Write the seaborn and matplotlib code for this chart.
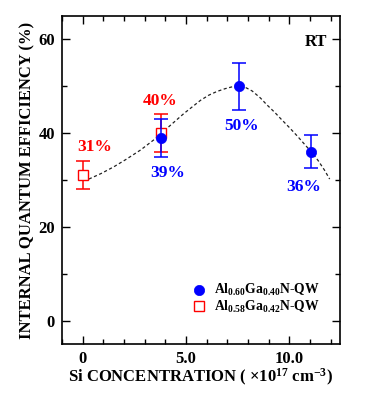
import matplotlib
matplotlib.use("Agg")
import matplotlib.pyplot as plt
import seaborn as sns
import pandas as pd
from matplotlib.ticker import MultipleLocator, FixedLocator

# ---- data ----
blue_x = [3.8, 7.55, 11.06]
blue_y = [39.0, 50.0, 36.0]
blue_err = [4.0, 5.0, 3.5]
blue_labels = ["39%", "50%", "36%"]

red_x = [0.0, 3.77]
red_y = [31.0, 40.0]
red_err = [3.0, 4.0]
red_labels = ["31%", "40%"]

curve_x = [0.3, 0.9, 1.5, 2.1, 2.8, 3.6, 4.2, 4.9, 5.7, 6.1, 6.5, 6.9, 7.2, 7.55, 7.9,
           8.2, 8.6, 8.9, 9.3, 9.6, 10.0, 10.4, 10.8, 11.1, 11.4, 11.7, 11.95]
curve_y = [30.2, 31.4, 32.8, 34.4, 36.4, 39.1, 41.5, 44.2, 47.0, 48.1, 48.9, 49.5, 49.85,
           50.0, 49.7, 49.0, 47.5, 46.1, 44.4, 43.0, 41.2, 39.3, 37.3, 35.8, 34.1, 32.1, 30.2]

legend_blue = r"Al$_{0.60}$Ga$_{0.40}$N-QW"
legend_red = r"Al$_{0.58}$Ga$_{0.42}$N-QW"

sns.set_theme(style="ticks")
plt.rcParams['font.family'] = ['Liberation Serif', 'DejaVu Serif']
plt.rcParams['font.weight'] = 'bold'
plt.rcParams['mathtext.fontset'] = 'custom'
plt.rcParams['mathtext.rm'] = 'Liberation Serif:bold'
plt.rcParams['mathtext.it'] = 'Liberation Serif:bold:italic'
plt.rcParams['mathtext.bf'] = 'Liberation Serif:bold'
for k in ['text.color', 'axes.labelcolor', 'xtick.color', 'ytick.color', 'axes.edgecolor']:
    plt.rcParams[k] = 'black'

fig = plt.figure(figsize=(3.7, 3.94), dpi=100)
ax = fig.add_axes([62/370, 1-344/394, (340-62)/370, (344-16)/394])

curve = pd.DataFrame({"x": curve_x, "y": curve_y})
sns.lineplot(data=curve, x="x", y="y", ax=ax, color="#222222", lw=0.9,
             linestyle=(0, (2.5, 2)), sort=False)

ax.errorbar(red_x, red_y, yerr=red_err, fmt='none', ecolor='red', elinewidth=1.1,
            capsize=5, capthick=1.1, zorder=3)
ax.plot(red_x, red_y, ls='none', marker='s', ms=6.5, mfc='white', mec='red', mew=1.0,
        zorder=4, label=legend_red)
ax.errorbar(blue_x, blue_y, yerr=blue_err, fmt='none', ecolor='blue', elinewidth=1.1,
            capsize=5, capthick=1.1, zorder=5)
blue_df = pd.DataFrame({"x": blue_x, "y": blue_y})
sns.scatterplot(data=blue_df, x="x", y="y", ax=ax, color='blue', s=55, edgecolor='blue',
                linewidth=0.5, zorder=6, label=legend_blue)

# percentage labels
red_offsets = [(0.57, 6.0), (-0.02, 6.8)]
for x, y, t, (dx, dy) in zip(red_x, red_y, red_labels, red_offsets):
    ax.text(x + dx, y + dy, t, color='red', fontsize=12.5, fontweight='bold',
            ha='center', va='center')
blue_offsets = [(0.29, -7.4), (0.15, -8.4), (-0.37, -7.6)]
for x, y, t, (dx, dy) in zip(blue_x, blue_y, blue_labels, blue_offsets):
    ax.text(x + dx, y + dy, t, color='blue', fontsize=12.5, fontweight='bold',
            ha='center', va='center')

ax.text(0.953, 0.92, "RT", transform=ax.transAxes, ha='right', va='center',
        fontsize=12, fontweight='bold')

ax.set_xlim(-1.0, 12.45)
ax.set_ylim(-5, 65)
ax.xaxis.set_major_locator(FixedLocator([0, 5, 10]))
ax.set_xticklabels(["0", "5.0", "10.0"])
ax.xaxis.set_minor_locator(MultipleLocator(1))
ax.yaxis.set_major_locator(FixedLocator([0, 20, 40, 60]))
ax.yaxis.set_minor_locator(FixedLocator([10, 30, 50]))
ax.tick_params(which='both', direction='in', top=True, right=True, width=1.0,
               labelsize=12, color='black', labelcolor='black')
ax.tick_params(which='major', length=6, pad=5)
ax.tick_params(which='minor', length=3.5)
for lab in ax.get_xticklabels() + ax.get_yticklabels():
    lab.set_fontweight('bold')
for s in ax.spines.values():
    s.set_linewidth(1.2)
    s.set_color('black')

ax.set_xlabel(r"Si CONCENTRATION ( ×10$^{17}$ cm$^{-3}$)", fontsize=12,
              fontweight='bold', labelpad=0)
ax.set_ylabel("INTERNAL QUANTUM EFFICIENCY (%)", fontsize=12, fontweight='bold',
              labelpad=2)

h, l = ax.get_legend_handles_labels()
order = [l.index(legend_blue), l.index(legend_red)]
leg = ax.legend([h[i] for i in order], [l[i] for i in order], loc='lower left',
                bbox_to_anchor=(0.445, 0.072), frameon=False, fontsize=9.8,
                handletextpad=0.5, labelspacing=0.05, borderaxespad=0, handlelength=1.2)
for t in leg.get_texts():
    t.set_fontweight('bold')

fig.savefig("out.png", dpi=100)
